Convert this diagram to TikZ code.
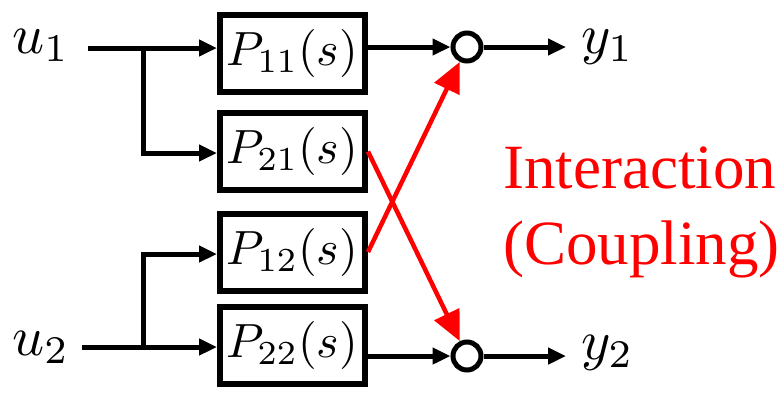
\documentclass[tikz,border=0pt]{standalone}
\usepackage[no-math]{fontspec}
\usepackage{graphicx}
\newfontfamily\timesf{Liberation Serif}
\usetikzlibrary{arrows.meta}
\newcommand{\blkmath}[1]{\scalebox{4.8}{$#1$}}
\newcommand{\lblmath}[1]{\scalebox{5.6}{$#1$}}
\begin{document}
\begin{tikzpicture}[x=1pt,y=-1pt,
  blk/.style={draw, line width=6pt, minimum width=145pt, minimum height=77pt, inner sep=0pt},
  sumc/.style={draw, circle, line width=5pt, minimum size=28pt, inner sep=0pt},
  sig/.style={line width=5pt, -{Triangle[length=18pt,width=16pt]}},
  coup/.style={line width=4.5pt, red, -{Triangle[length=30pt,width=27pt]}},
  lbl/.style={inner sep=0pt, anchor=base west},
  note/.style={font=\timesf\fontsize{63}{70}\selectfont, text=red, inner sep=0pt, anchor=base west}
]
\useasboundingbox (0,0) rectangle (783,394);
\node[blk] (P11) at (292.5,53.5) {\blkmath{P_{11}(s)}};
\node[blk] (P21) at (292.5,151.5) {\blkmath{P_{21}(s)}};
\node[blk] (P12) at (292.5,252) {\blkmath{P_{12}(s)}};
\node[blk] (P22) at (292.5,345.5) {\blkmath{P_{22}(s)}};
\node[sumc] (S1) at (467,47) {};
\node[sumc] (S2) at (467,356) {};
\node[lbl] (u1) at (12,53) {\lblmath{u_1}};
\node[lbl] (u2) at (12,355) {\lblmath{u_2}};
\node[lbl] (y1) at (581,53) {\lblmath{y_1}};
\node[lbl] (y2) at (581,359) {\lblmath{y_2}};
\node[note] (t1) at (503,188) {Interaction};
\node[note] (t2) at (503,264) {(Coupling)};
\coordinate (a1) at (88,48);
\coordinate (b1) at (143.5,48);
\coordinate (a2) at (82,347);
\coordinate (b2) at (143.5,347);
\coordinate (o1) at (566,47);
\coordinate (o2) at (566,356);
\draw[sig] (a1) -- (a1 -| P11.west);
\draw[sig] (b1) |- ([yshift=-1.5pt]P21.west);
\draw[sig] (a2) -- (a2 -| P22.west);
\draw[sig] (b2) |- ([yshift=-2pt]P12.west);
\draw[sig] (S1 -| P11.east) -- (S1);
\draw[sig] (S2 -| P22.east) -- (S2);
\draw[sig] (S1) -- (o1);
\draw[sig] (S2) -- (o2);
\draw[coup] (P21.east) -- (S2);
\draw[coup] (P12.east) -- (S1);
\end{tikzpicture}
\end{document}
